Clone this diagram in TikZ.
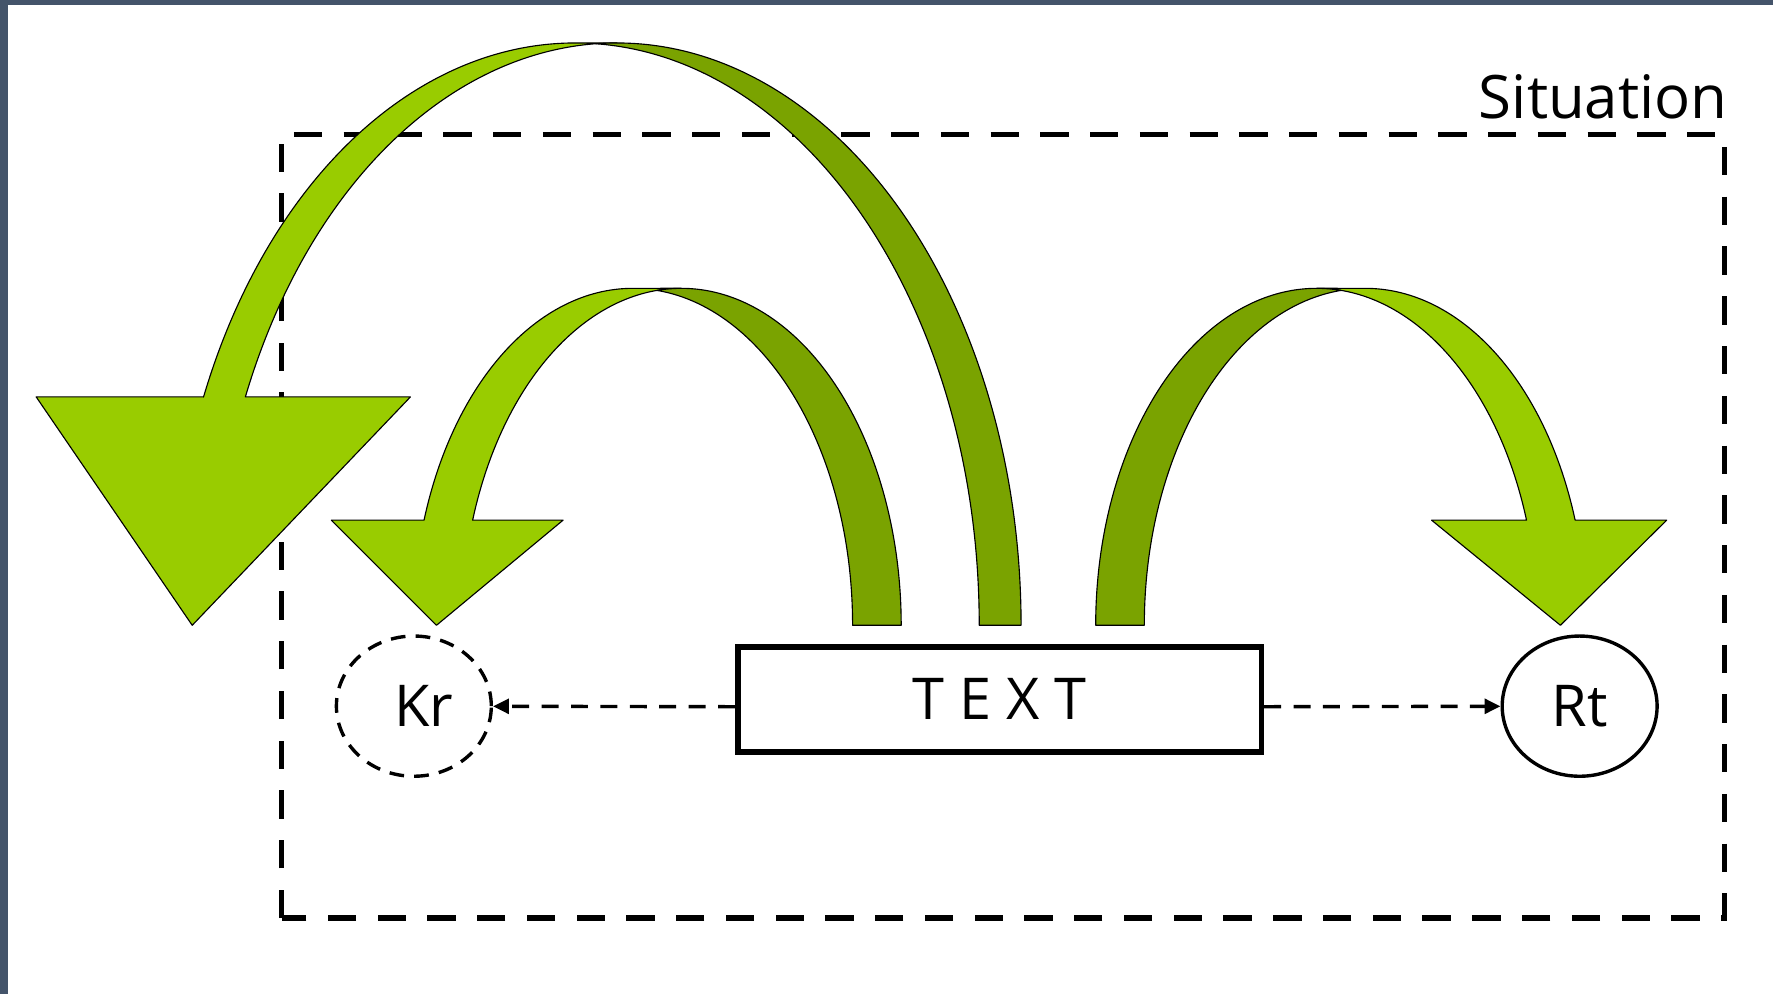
\documentclass[tikz,border=0pt]{standalone}
\usepackage{fontspec}
\setmainfont{Open Sans}
\usetikzlibrary{shapes.geometric,arrows.meta}
\definecolor{bandcol}{RGB}{68,84,106}
\definecolor{lgreen}{RGB}{153,204,0}
\definecolor{dgreen}{RGB}{122,163,0}
\begin{document}
\begin{tikzpicture}[x=1pt,y=1pt,
  lbl/.style={font=\fontsize{51}{60}\selectfont},
  frame/.style={line width=5pt, dash pattern=on 25pt off 19pt},
  front/.style={fill=lgreen, draw=black, line width=1pt, line join=round},
  back/.style={fill=dgreen, draw=black, line width=1pt, line join=round},
  conn/.style={line width=3pt, dash pattern=on 15pt off 11pt, -{Triangle[length=14pt,width=13pt]}},
  circ/.style={draw, ellipse, line width=3pt, minimum width=137pt, minimum height=124pt, inner sep=0pt}
  ]
\useasboundingbox (0,0) rectangle (1568,879);
\fill[white] (0,0) rectangle (1568,879);
\fill[bandcol] (0,874.5) rectangle (1568,879);
\fill[bandcol] (0,0) rectangle (7.5,879);

% situation frame
\draw[frame] (249,67) rectangle (1525,760);
\node[font=\fontsize{53}{60}\selectfont, anchor=base east, inner sep=0pt] (sit) at (1528,774) {Situation};

% big curved arrow
\draw[front] (217,528) arc[start angle=156.91, end angle=90, x radius=357.31pt, y radius=515pt]
  -- (508.69,841) arc[start angle=90, end angle=156.91, x radius=357.31pt, y radius=515pt]
  -- (32,528) -- (170,326) -- (363,528) -- cycle;
\draw[back] (527.19,840.3) arc[start angle=92.97, end angle=0, x radius=357.31pt, y radius=515pt]
  -- (866,326) arc[start angle=0, end angle=87.03, x radius=357.31pt, y radius=515pt] -- cycle;

% medium curved arrow
\draw[front] (418,419) arc[start angle=161.82, end angle=90, x radius=194.35pt, y radius=298pt]
  -- (559.65,624) arc[start angle=90, end angle=161.82, x radius=194.35pt, y radius=298pt]
  -- (293,419) -- (386,326) -- (498,419) -- cycle;
\draw[back] (581.15,622.17) arc[start angle=96.35, end angle=0, x radius=194.35pt, y radius=298pt]
  -- (754,326) arc[start angle=0, end angle=83.65, x radius=194.35pt, y radius=298pt] -- cycle;

% right curved arrow
\draw[front] (1350,419) arc[start angle=18.18, end angle=90, x radius=195.38pt, y radius=298pt]
  -- (1207.38,624) arc[start angle=90, end angle=18.18, x radius=195.38pt, y radius=298pt]
  -- (1474,419) -- (1380,326) -- (1266,419) -- cycle;
\draw[back] (1185.88,622.19) arc[start angle=83.68, end angle=180, x radius=195.38pt, y radius=298pt]
  -- (1012,326) arc[start angle=180, end angle=96.32, x radius=195.38pt, y radius=298pt] -- cycle;

% nodes
\node[draw, line width=5pt, minimum width=463pt, minimum height=93pt, inner sep=0pt, lbl] (tb) at (884,260.5) {T E X T};
\node[circ, dash pattern=on 13pt off 9pt] (kr) at (366,254.5) {};
\node[lbl, inner sep=0pt] (krt) at ([xshift=9pt]kr.center) {Kr};
\node[circ, lbl] (rt) at (1397,254.5) {Rt};

% connectors
\draw[conn] ([yshift=-6.5pt]tb.west) -- (kr);
\draw[conn] ([yshift=-6.5pt]tb.east) -- (rt);
\end{tikzpicture}
\end{document}
